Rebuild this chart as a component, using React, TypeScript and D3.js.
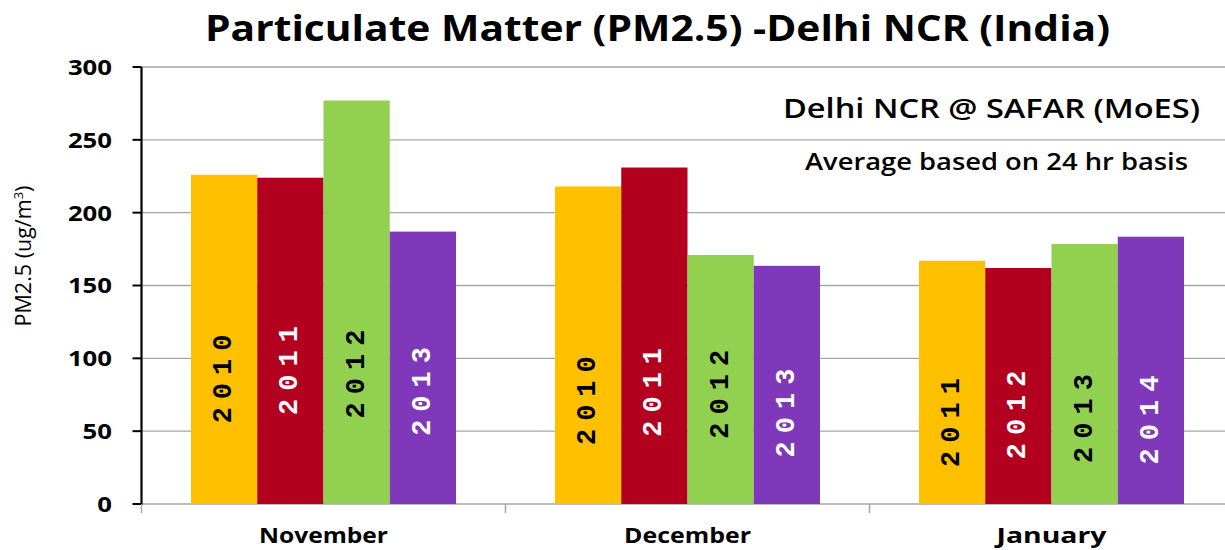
import React from "react";
import * as d3 from "d3";

const months = ["November", "December", "January"];
const slots = ["s1", "s2", "s3", "s4"];
const yearLabels = [
  ["2010", "2011", "2012", "2013"],
  ["2010", "2011", "2012", "2013"],
  ["2011", "2012", "2013", "2014"],
];
const values = [
  [226, 224, 277, 187],
  [218, 231, 171, 163.5],
  [167, 162, 178.5, 183.5],
];
// value (data units) at which each bar's year label is centred
const labelAt = [
  [88.6, 94.4, 92, 80],
  [73.7, 79.4, 78.1, 65.2],
  [58.7, 63.9, 61.4, 60.4],
];
const yTicks = [0, 50, 100, 150, 200, 250, 300];
const barColors = ["#FFC000", "#B3001F", "#92D050", "#7E38B9"];
const labelColors = ["#000000", "#FFFFFF", "#000000", "#FFFFFF"];

const W = 1225;
const H = 550;
const left = 141.5;
const bottom = 504;
const top = 67;

export default function App() {
  const y = d3.scaleLinear().domain([0, 300]).range([bottom, top]);
  const x0 = d3
    .scaleBand<string>()
    .domain(months)
    .range([left, left + 1092])
    .paddingInner(0.272)
    .paddingOuter(0.136);
  const x1 = d3.scaleBand<string>().domain(slots).range([0, x0.bandwidth()]);
  const font = "'Open Sans', 'DejaVu Sans', sans-serif";
  const boundaries = [left, ...months.slice(1).map((m) => (x0(m) as number) - (x0.step() - x0.bandwidth()) / 2)];
  const monthWidth: Record<string, number> = { November: 129, December: 127, January: 110 };

  return (
    <svg
      width={W}
      height={H}
      style={{ position: "absolute", left: 0, top: 0, background: "#fff" }}
      fontFamily={font}
    >
      <rect x={0} y={0} width={W} height={H} fill="#fff" />
      <text x={205} y={41} fontSize={36} fontWeight={700} fill="#000" textLength={905} lengthAdjust="spacingAndGlyphs">
        Particulate Matter (PM2.5) -Delhi NCR (India)
      </text>

      {/* gridlines */}
      {yTicks.slice(1).map((t) => (
        <line key={t} x1={left} x2={W} y1={y(t)} y2={y(t)} stroke="#A6A6A6" strokeWidth={1.3} />
      ))}
      <line x1={left} x2={W} y1={y(0)} y2={y(0)} stroke="#A6A6A6" strokeWidth={1.5} />

      {/* bars */}
      {months.map((m, mi) => (
        <g key={m} transform={`translate(${x0(m)},0)`}>
          {slots.map((s, si) => {
            const bx = x1(s) as number;
            const bw = x1.bandwidth();
            const cy = y(labelAt[mi][si]);
            const cx = bx + bw / 2;
            return (
              <g key={s}>
                <rect x={bx} y={y(values[mi][si])} width={bw} height={y(0) - y(values[mi][si])} fill={barColors[si]} />
                <text
                  transform={`translate(${cx},${cy}) rotate(-90)`}
                  textAnchor="middle"
                  dominantBaseline="central"
                  fontFamily="'Liberation Mono', 'Courier New', monospace"
                  fontWeight={700}
                  fontSize={27}
                  letterSpacing={8}
                  fill={labelColors[si]}
                >
                  {yearLabels[mi][si]}
                </text>
              </g>
            );
          })}
        </g>
      ))}

      {/* annotations */}
      <text x={783} y={117.5} fontSize={27} fontWeight={600} fill="#000" textLength={417} lengthAdjust="spacingAndGlyphs">
        Delhi NCR @ SAFAR (MoES)
      </text>
      <text x={805} y={170} fontSize={24} fontWeight={600} fill="#000" textLength={383} lengthAdjust="spacingAndGlyphs">
        Average based on 24 hr basis
      </text>

      {/* y axis */}
      <line x1={left} x2={left} y1={y(300)} y2={y(0) + 1} stroke="#000" strokeWidth={2.2} />
      {yTicks.map((t) => {
        const s = String(t);
        return (
          <g key={t}>
            <line x1={left - 9} x2={left} y1={y(t)} y2={y(t)} stroke="#000" strokeWidth={2} />
            <text
              x={112 - s.length * 14.7}
              y={y(t)}
              dy="0.36em"
              fontSize={22}
              fontWeight={700}
              fill="#000"
              textLength={s.length * 14.7}
              lengthAdjust="spacingAndGlyphs"
            >
              {s}
            </text>
          </g>
        );
      })}
      <text
        transform={`translate(31,256) rotate(-90)`}
        textAnchor="middle"
        fontSize={21.5}
        fill="#000"
      >
        PM2.5 (ug/m<tspan dy={-8} fontSize={13}>3</tspan>
        <tspan dy={8}>)</tspan>
      </text>

      {/* x axis ticks and labels */}
      {boundaries.map((bx, i) => (
        <line key={i} x1={bx} x2={bx} y1={bottom} y2={bottom + 9} stroke="#A6A6A6" strokeWidth={1.5} />
      ))}
      {months.map((m) => (
        <text
          key={m}
          x={(x0(m) as number) + x0.bandwidth() / 2 - monthWidth[m] / 2}
          y={543}
          fontSize={21}
          fontWeight={700}
          fill="#000"
          textLength={monthWidth[m]}
          lengthAdjust="spacingAndGlyphs"
        >
          {m}
        </text>
      ))}
    </svg>
  );
}
